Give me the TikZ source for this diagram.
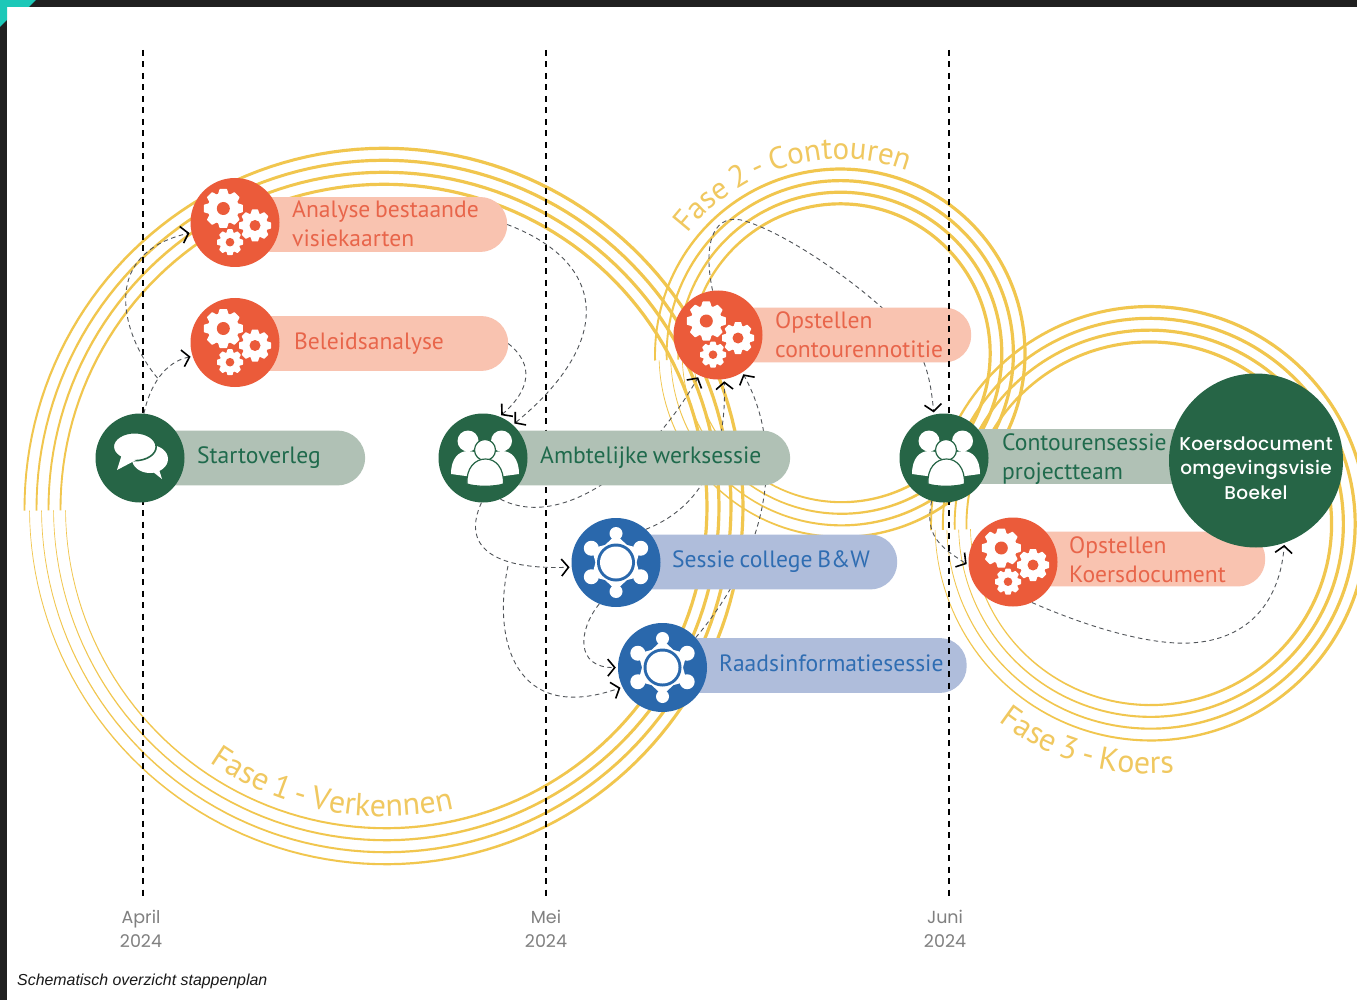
\documentclass[tikz,border=0pt]{standalone}
\usepackage{fontspec}
\setmainfont[WordSpace=0.75]{PT Sans}
\newfontfamily\poppinsfont{Poppins}
\newfontfamily\koersfont[LetterSpace=2]{Poppins Medium}
\newfontfamily\capfont{Liberation Sans}
\usetikzlibrary{arrows.meta,decorations.text}
\definecolor{dark}{HTML}{202020}
\definecolor{teal1}{HTML}{1CC8B8}
\definecolor{ringc}{HTML}{F1C64E}
\definecolor{labc}{HTML}{F0C860}
\definecolor{org}{HTML}{EB5B3A}
\definecolor{orgp}{HTML}{F9C3B0}
\definecolor{orgt}{HTML}{E8654A}
\definecolor{grn}{HTML}{266546}
\definecolor{grnp}{HTML}{B0C1B5}
\definecolor{grnt}{HTML}{1F6A4C}
\definecolor{blu}{HTML}{2A68AC}
\definecolor{blup}{HTML}{AFBDDB}
\definecolor{blut}{HTML}{2F6DB2}
\definecolor{conc}{HTML}{505458}
\definecolor{datec}{HTML}{808080}
\newcommand{\ringband}[5]{%
  \fill[ringc] plot[domain=0:360,samples=181]
    ({#1-(#3-#4*(1-\x/360)+(0.6+2.6*min(1,\x/150)-1.4*max(0,\x-270)/90)/2)*cos(\x+#5)},
     {#2+(#3-#4*(1-\x/360)+(0.6+2.6*min(1,\x/150)-1.4*max(0,\x-270)/90)/2)*sin(\x+#5)})
    -- plot[domain=360:0,samples=181]
    ({#1-(#3-#4*(1-\x/360)-(0.6+2.6*min(1,\x/150)-1.4*max(0,\x-270)/90)/2)*cos(\x+#5)},
     {#2+(#3-#4*(1-\x/360)-(0.6+2.6*min(1,\x/150)-1.4*max(0,\x-270)/90)/2)*sin(\x+#5)})
    -- cycle;}
\newcommand{\gearone}[6]{% cx cy R hole teeth colour
  \begin{scope}[shift={(#1,#2)}]
    \fill[white] (0,0) circle[radius=0.8*#3 pt];
    \pgfmathsetmacro{\gstep}{360/#5}
    \foreach \k in {1,...,#5}{
      \fill[white,rotate=\k*\gstep,rounded corners=0.5pt]
        (-0.28*#3,0.7*#3) -- (-0.19*#3,#3) -- (0.19*#3,#3) -- (0.28*#3,0.7*#3) -- cycle;}
    \fill[#6] (0,0) circle[radius=#4 pt];
  \end{scope}}
\newcommand{\gearsicon}[1]{%
  \begin{scope}[shift={(#1.center)}]
    \gearone{-11.7}{-14}{19.5}{6.5}{8}{org}
    \gearone{20}{3}{16}{5.5}{8}{org}
    \gearone{-5}{19.7}{13}{4.3}{8}{org}
  \end{scope}}
\newcommand{\peopleicon}[1]{%
  \begin{scope}[shift={(#1.center)}]
    \fill[white] (-15,-17) circle[radius=10.5pt];
    \fill[white] (18.5,-17) circle[radius=10.5pt];
    \fill[white] (-32,16) .. controls (-32,0) and (-24,-7) .. (-15,-7) .. controls (-8,-7) and (-3,-3) .. (0,0) -- (-10,19) -- cycle;
    \fill[white] (36,16) .. controls (36,0) and (28,-7) .. (19,-7) .. controls (12,-7) and (7,-3) .. (4,0) -- (14,19) -- cycle;
    \filldraw[fill=white,draw=grn,line width=1.2pt] (2,-8) circle[radius=10.5pt];
    \filldraw[fill=white,draw=grn,line width=1.2pt] (-16,26) .. controls (-17,10) and (-8,1) .. (2.5,1) .. controls (13,1) and (21,10) .. (20.5,26) .. controls (12,29) and (-8,29) .. cycle;
  \end{scope}}
\newcommand{\tableicon}[1]{%
  \begin{scope}[shift={(#1.center)}]
    \foreach \a in {90,270}{
      \fill[white] (\a:29) circle[radius=6.5pt];
      \fill[white,rotate=\a,rounded corners=1pt] (25,-3) -- (25,3) -- (16,12.5) -- (16,-12.5) -- cycle;}
    \foreach \a in {30,150,210,330}{
      \fill[white] (\a:28.5) circle[radius=7.5pt];
      \fill[white,rotate=\a,rounded corners=1pt] (25,-3) -- (25,3) -- (16,12) -- (16,-12) -- cycle;}
    \fill[blu] (0,0) circle[radius=19pt];
    \fill[white] (0,0) circle[radius=16pt];
  \end{scope}}
\newcommand{\chaticon}[1]{%
  \begin{scope}[shift={(#1.center)}]
    \fill[white] (10,1) ellipse[x radius=18pt,y radius=14pt];
    \fill[white] (8,10) -- (22,21) -- (17,5) -- cycle;
    \filldraw[fill=white,draw=grn,line width=1.6pt] (-5.3,-11.3) ellipse[x radius=21.5pt,y radius=14pt];
    \fill[white] (-18,-4) -- (-23,12) -- (-4,2) -- cycle;
  \end{scope}}
\tikzset{
  x=1pt,y=-1pt,
  dot/.style={circle,inner sep=0pt,minimum size=89pt},
  pill/.style={rectangle,inner sep=0pt,rounded corners=26.9pt,minimum height=54.5pt},
  lbl/.style={inner sep=0pt,anchor=base west,align=left,font=\fontsize{23.6}{29}\selectfont},
  vdash/.style={draw=black,line width=1.7pt,dash pattern=on 6pt off 5.5pt},
  conn/.style={draw=conc,line width=0.9pt,dash pattern=on 4.5pt off 3.5pt},
  arr/.style={conn,-{Straight Barb[length=7pt,width=17pt,line width=1.6pt,black]},shorten >=2pt},
  datelbl/.style={inner sep=0pt,align=center,text=datec,font=\poppinsfont\fontsize{17.5}{24}\selectfont},
  phase/.style={decorate,decoration={text along path,text={#1},text align=center}},
}
\begin{document}
\begin{tikzpicture}
\useasboundingbox (0,0) rectangle (1357,1000);
% frame
\fill[white] (0,0) rectangle (1357,1000);
\fill[dark] (0,0) rectangle (1357,7);
\fill[dark] (0,0) rectangle (7,1000);
\fill[teal1] (0,0) -- (36,0) -- (29,7) -- (7,7) -- (7,20) -- (0,27) -- cycle;
% rings
\foreach \k in {0,1,2,3}{
  \pgfmathsetmacro{\rA}{360.5-12*\k}
  \ringband{385}{507.5}{\rA}{5}{0.5}
  \pgfmathsetmacro{\rB}{186-11.6*\k}
  \ringband{841}{354}{\rB}{4}{2}
  \pgfmathsetmacro{\rC}{219-11.8*\k}
  \ringband{1150}{524.5}{\rC}{4}{1.5}
}
% phase labels
\path[phase={|\fontsize{32}{32}\selectfont\color{labc}|Fase 1 - Verkennen}]
  plot[domain=44.2:114.2,samples=60] ({385-309*cos(\x)},{507.5+309*sin(\x)});
\path[phase={|\fontsize{31}{31}\selectfont\color{labc}|Fase 2 - Contouren}]
  plot[domain=21:127,samples=60] ({841-195*cos(\x)},{354-195*sin(\x)});
\path[phase={|\fontsize{32}{32}\selectfont\color{labc}|Fase 3 - Koers}]
  plot[domain=40:108,samples=60] ({1150-249*cos(\x)},{524.5+249*sin(\x)});
% timeline coordinates
\coordinate (ta) at (143,50); \coordinate (tb) at (143,897);
\coordinate (ma) at (546,50); \coordinate (mb) at (546,897);
\coordinate (ja) at (949,50); \coordinate (jb) at (949,897);
\path[vdash] (ta) -- (tb);
\path[vdash] (ma) -- (mb);
% circles (placed first as nodes so that connectors can refer to them, painted later)
\path
  node[dot] (an) at (235,222.5) {}
  node[dot] (be) at (235,342.5) {}
  node[dot] (st) at (140,458) {}
  node[dot] (am) at (483,458) {}
  node[dot] (op) at (718,335) {}
  node[dot] (se) at (616,562.5) {}
  node[dot] (ra) at (662.5,667.5) {}
  node[dot] (co) at (944,458) {}
  node[dot] (ok) at (1013,562) {}
  node[circle,inner sep=0pt,minimum size=174pt] (ko) at (1256,460.5) {};
% pills as named nodes (invisible first for anchors)
\path
  node[pill,minimum width=272pt] (anp) at (371,224.5) {}
  node[pill,minimum width=273pt] (bep) at (371.5,343.5) {}
  node[pill,minimum width=225pt] (stp) at (252.5,458) {}
  node[pill,minimum width=307pt] (amp) at (636.5,458) {}
  node[pill,minimum width=253pt] (opp) at (844.5,335) {}
  node[pill,minimum width=281pt] (sep) at (756.5,562) {}
  node[pill,minimum width=304pt] (rap) at (814.5,665.5) {}
  node[pill,minimum width=256pt] (cop) at (1072,456.5) {}
  node[pill,minimum width=252pt] (okp) at (1139,559) {};
% connectors
\coordinate (j1) at (157.5,378);
\coordinate (j2) at (508,566);
\path[arr] (st.85) .. controls (150,385) and (165,362) .. (be.198);
\path[arr] (j1) .. controls (125,340) and (95,255) .. (an.193);
\path[arr] (anp.east) .. controls (606,262) and (616,340) .. (am.48);
\path[arr] (bep.east) .. controls (535,365) and (530,390) .. (am.68);
\path[arr] (am.268) .. controls (462,545) and (490,570) .. (se.186);
\path[arr] (j2) .. controls (492,640) and (515,725) .. (ra.206);
\path[arr] (se.248) .. controls (578,630) and (575,668) .. (ra.180);
\path[arr] (am.293) .. controls (560,530) and (645,470) .. (op.245);
\path[arr] (se.48) .. controls (695,510) and (727,465) .. (op.278);
\path[arr] (ra.42) .. controls (770,550) and (785,450) .. (op.303);
\path[arr] (op.97) .. controls (702,240) and (715,212) .. (745,221) .. controls (790,235) and (860,285) .. (895,320) .. controls (925,350) and (930,375) .. (co.103);
\path[arr] (co.254) .. controls (924,535) and (940,547) .. (ok.184);
\path[arr] (ok.-65) .. controls (1090,628) and (1150,645) .. (1190,643) .. controls (1250,640) and (1280,600) .. (ko.-71);
% pills painted
\path[fill=orgp,rounded corners=26.9pt] (anp.south west) rectangle (anp.north east);
\path[fill=orgp,rounded corners=26.9pt] (bep.south west) rectangle (bep.north east);
\path[fill=grnp,rounded corners=27.9pt] (stp.south west) rectangle (stp.north east);
\path[fill=grnp,rounded corners=27.9pt] (amp.south west) rectangle (amp.north east);
\path[fill=orgp,rounded corners=26.9pt] (opp.south west) rectangle (opp.north east);
\path[fill=blup,rounded corners=26.9pt] (sep.south west) rectangle (sep.north east);
\path[fill=blup,rounded corners=26.9pt] (rap.south west) rectangle (rap.north east);
\path[fill=grnp,rounded corners=26.9pt] (cop.south west) rectangle (cop.north east);
\path[fill=orgp,rounded corners=26.9pt] (okp.south west) rectangle (okp.north east);
\path[vdash] (ja) -- (jb);
% circles painted
\foreach \n/\c in {an/org,be/org,st/grn,am/grn,op/org,se/blu,ra/blu,co/grn,ok/org}{
  \fill[\c] (\n.center) circle[radius=44.5pt];}
\fill[grn] (ko.center) circle[radius=87pt];
\gearsicon{an}\gearsicon{be}\gearsicon{op}\gearsicon{ok}
\peopleicon{am}\peopleicon{co}
\tableicon{se}\tableicon{ra}
\chaticon{st}
% labels
\node[lbl,text=orgt] (tan) at (292,247) {Analyse bestaande\\visiekaarten};
\node[lbl,text=orgt] (tbe) at (294,349) {Beleidsanalyse};
\node[lbl,text=grnt] (tst) at (197,463) {Startoverleg};
\node[lbl,text=grnt] (tam) at (540,463) {Ambtelijke werksessie};
\node[lbl,text=orgt] (top) at (775,357) {Opstellen\\contourennotitie};
\node[lbl,text=blut] (tse) at (672,567) {Sessie college B\&W};
\node[lbl,text=blut] (tra) at (719,671) {Raadsinformatiesessie};
\node[lbl,text=grnt] (tco) at (1002,479) {Contourensessie\\projectteam};
\node[lbl,text=orgt] (tok) at (1069,582) {Opstellen\\Koersdocument};
\node[inner sep=0pt,align=center,text=white,font=\koersfont\fontsize{18.5}{24.5}\selectfont] (tko) at (1256,468) {Koersdocument\\omgevingsvisie\\Boekel};
\node[datelbl] (da) at (141,929) {April\\2024};
\node[datelbl] (db) at (546,929) {Mei\\2024};
\node[datelbl] (dc) at (945,929) {Juni\\2024};
\node[inner sep=0pt,anchor=base west,font=\capfont\itshape\fontsize{15.9}{16}\selectfont,text=black!90] (cap) at (17,985) {Schematisch overzicht stappenplan};
\end{tikzpicture}
\end{document}
